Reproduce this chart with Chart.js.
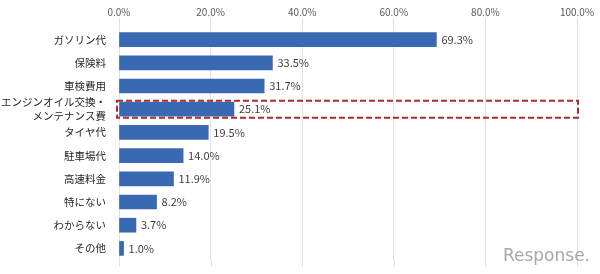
<!DOCTYPE html>
<html>
<head>
<meta charset="utf-8">
<script src="https://cdn.jsdelivr.net/npm/chart.js@4"></script>
<style>
  html, body { margin: 0; padding: 0; background: #fff; }
  #wrap { width: 600px; height: 274px; }
</style>
</head>
<body>
<div id="wrap"><canvas id="costChart"></canvas></div>
<script>
const categories = [
  "ガソリン代",
  "保険料",
  "車検費用",
  ["エンジンオイル交換・", "メンテナンス費"],
  "タイヤ代",
  "駐車場代",
  "高速料金",
  "特にない",
  "わからない",
  "その他"
];
const shares = [69.3, 33.5, 31.7, 25.1, 19.5, 14.0, 11.9, 8.2, 3.7, 1.0];
const xTicks = [0, 20, 40, 60, 80, 100];
const highlightIndex = 3;

const FONT = "'Noto Sans CJK JP', 'Noto Sans', sans-serif";
const GRID = "#e3e3e3";

/* value labels at bar ends */
const valueLabels = {
  id: "valueLabels",
  afterDatasetsDraw(chart) {
    const { ctx } = chart;
    const meta = chart.getDatasetMeta(0);
    ctx.save();
    ctx.font = "11px " + FONT;
    ctx.fillStyle = "#404040";
    ctx.textBaseline = "middle";
    meta.data.forEach((bar, i) => {
      ctx.fillText(shares[i].toFixed(1) + "%", bar.x + 5, bar.y);
    });
    ctx.restore();
  }
};

/* gridlines run a little past the last bar */
const gridTail = {
  id: "gridTail",
  beforeDatasetsDraw(chart) {
    const { ctx, scales, chartArea } = chart;
    ctx.save();
    ctx.strokeStyle = GRID;
    ctx.lineWidth = 1;
    xTicks.forEach((v) => {
      const x = Math.round(scales.x.getPixelForValue(v)) + 0.5;
      ctx.beginPath();
      ctx.moveTo(x, chartArea.bottom);
      ctx.lineTo(x, chartArea.bottom + 7);
      ctx.stroke();
    });
    ctx.restore();
  }
};

/* dashed box round the highlighted row */
const highlightBox = {
  id: "highlightBox",
  afterDatasetsDraw(chart) {
    const { ctx, scales } = chart;
    const bar = chart.getDatasetMeta(0).data[highlightIndex];
    const left = scales.x.getPixelForValue(0) - 2;
    const right = scales.x.getPixelForValue(100) + 1;
    ctx.save();
    ctx.strokeStyle = "#b02a2a";
    ctx.lineWidth = 2;
    ctx.setLineDash([6, 3]);
    ctx.strokeRect(left, bar.y - 8.5, right - left, 17);
    ctx.restore();
  }
};

/* watermark */
const watermark = {
  id: "watermark",
  afterDraw(chart) {
    const { ctx } = chart;
    ctx.save();
    ctx.font = "17px 'DejaVu Sans', sans-serif";
    ctx.fillStyle = "#a8a8a8";
    ctx.textAlign = "right";
    ctx.textBaseline = "alphabetic";
    ctx.fillText("Response.", chart.width - 10, chart.height - 13);
    ctx.restore();
  }
};

new Chart(document.getElementById("costChart"), {
  type: "bar",
  data: {
    labels: categories,
    datasets: [{
      data: shares,
      backgroundColor: "#3a69b4",
      barThickness: 14
    }]
  },
  options: {
    indexAxis: "y",
    responsive: true,
    maintainAspectRatio: false,
    animation: false,
    layout: { padding: { top: 6, right: 23, bottom: 14, left: 0 } },
    plugins: {
      legend: { display: false },
      tooltip: { enabled: false }
    },
    scales: {
      x: {
        position: "top",
        min: 0,
        max: 100,
        afterBuildTicks: (axis) => {
          axis.ticks = xTicks.map((v) => ({ value: v }));
        },
        grid: { color: GRID, tickLength: 10, drawTicks: true },
        border: { display: false },
        ticks: {
          color: "#595959",
          font: { family: FONT, size: 10 },
          padding: 0,
          callback: (v) => v.toFixed(1) + "%"
        }
      },
      y: {
        grid: { display: false },
        border: { display: false },
        afterFit: (axis) => { axis.width = 119; },
        ticks: {
          autoSkip: false,
          color: "#262626",
          font: { family: FONT, size: 10.5, lineHeight: 1.35 },
          padding: 5
        }
      }
    }
  },
  plugins: [gridTail, valueLabels, highlightBox, watermark]
});
</script>
</body>
</html>
